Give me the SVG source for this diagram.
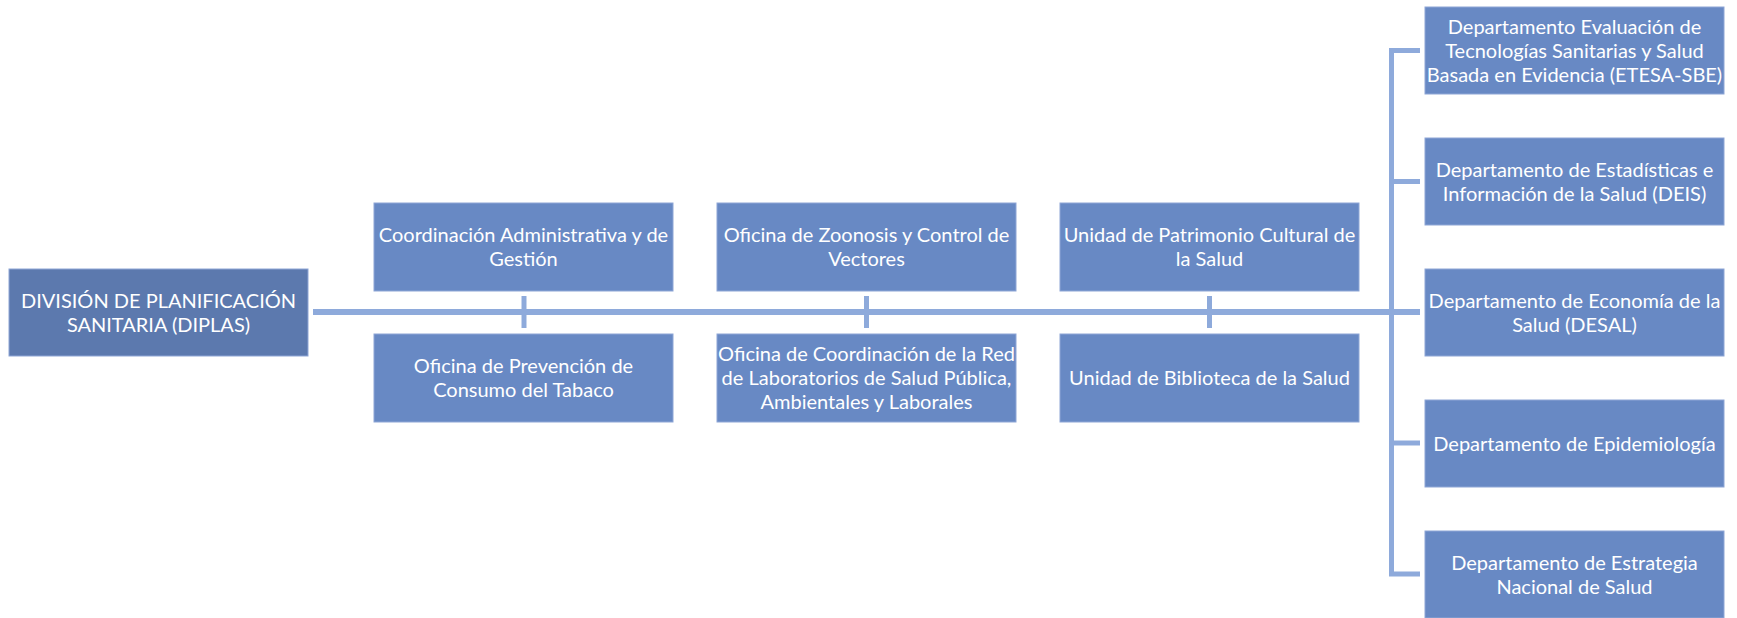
<svg xmlns="http://www.w3.org/2000/svg" width="1737" height="618" viewBox="0 0 1737 618">
<style>
.box{fill:#6889c4;stroke:#8ea6d6;stroke-width:1}
.root{fill:#5c79ae;stroke:#8ea6d6;stroke-width:1}
.t{font-family:Lato,"Open Sans","Liberation Sans",sans-serif;font-size:20px;fill:#ffffff;text-anchor:middle}
.ln{stroke:#8eaadb;fill:none}
</style>
<rect width="1737" height="618" fill="#ffffff"/>
<g id="connectors">
<line class="ln" x1="313" y1="312" x2="1420" y2="312" stroke-width="6"/>
<line class="ln" x1="524" y1="296" x2="524" y2="328" stroke-width="5"/>
<line class="ln" x1="866.5" y1="296" x2="866.5" y2="328" stroke-width="5"/>
<line class="ln" x1="1209.5" y1="296" x2="1209.5" y2="328" stroke-width="5"/>
<path class="ln" d="M1420,50.5 H1391.5 V574 H1420" stroke-width="5"/>
<line class="ln" x1="1391.5" y1="181.5" x2="1420" y2="181.5" stroke-width="5"/>
<line class="ln" x1="1391.5" y1="443" x2="1420" y2="443" stroke-width="5"/>
</g>
<g id="n-diplas">
<rect class="root" x="9" y="269" width="299" height="87"/>
<text class="t" x="158.5" y="307.5">DIVISIÓN DE PLANIFICACIÓN</text>
<text class="t" x="158.5" y="331.5">SANITARIA (DIPLAS)</text>
</g>
<g id="n-coord">
<rect class="box" x="374" y="203" width="299" height="88"/>
<text class="t" x="523.5" y="242">Coordinación Administrativa y de</text>
<text class="t" x="523.5" y="266">Gestión</text>
</g>
<g id="n-tabaco">
<rect class="box" x="374" y="334" width="299" height="88"/>
<text class="t" x="523.5" y="373">Oficina de Prevención de</text>
<text class="t" x="523.5" y="397">Consumo del Tabaco</text>
</g>
<g id="n-zoonosis">
<rect class="box" x="717" y="203" width="299" height="88"/>
<text class="t" x="866.5" y="242">Oficina de Zoonosis y Control de</text>
<text class="t" x="866.5" y="266">Vectores</text>
</g>
<g id="n-laboratorios">
<rect class="box" x="717" y="334" width="299" height="88"/>
<text class="t" x="866.5" y="361">Oficina de Coordinación de la Red</text>
<text class="t" x="866.5" y="385">de Laboratorios de Salud Pública,</text>
<text class="t" x="866.5" y="409">Ambientales y Laborales</text>
</g>
<g id="n-patrimonio">
<rect class="box" x="1060" y="203" width="299" height="88"/>
<text class="t" x="1209.5" y="242">Unidad de Patrimonio Cultural de</text>
<text class="t" x="1209.5" y="266">la Salud</text>
</g>
<g id="n-biblioteca">
<rect class="box" x="1060" y="334" width="299" height="88"/>
<text class="t" x="1209.5" y="385">Unidad de Biblioteca de la Salud</text>
</g>
<g id="n-etesa">
<rect class="box" x="1425" y="7" width="299" height="87"/>
<text class="t" x="1574.5" y="33.5">Departamento Evaluación de</text>
<text class="t" x="1574.5" y="57.5">Tecnologías Sanitarias y Salud</text>
<text class="t" x="1574.5" y="81.5">Basada en Evidencia (ETESA-SBE)</text>
</g>
<g id="n-deis">
<rect class="box" x="1425" y="138" width="299" height="87"/>
<text class="t" x="1574.5" y="176.5">Departamento de Estadísticas e</text>
<text class="t" x="1574.5" y="200.5">Información de la Salud (DEIS)</text>
</g>
<g id="n-desal">
<rect class="box" x="1425" y="269" width="299" height="87"/>
<text class="t" x="1574.5" y="307.5">Departamento de Economía de la</text>
<text class="t" x="1574.5" y="331.5">Salud (DESAL)</text>
</g>
<g id="n-epidemiologia">
<rect class="box" x="1425" y="400" width="299" height="87"/>
<text class="t" x="1574.5" y="450.5">Departamento de Epidemiología</text>
</g>
<g id="n-estrategia">
<rect class="box" x="1425" y="531" width="299" height="87"/>
<text class="t" x="1574.5" y="569.5">Departamento de Estrategia</text>
<text class="t" x="1574.5" y="593.5">Nacional de Salud</text>
</g>
</svg>
